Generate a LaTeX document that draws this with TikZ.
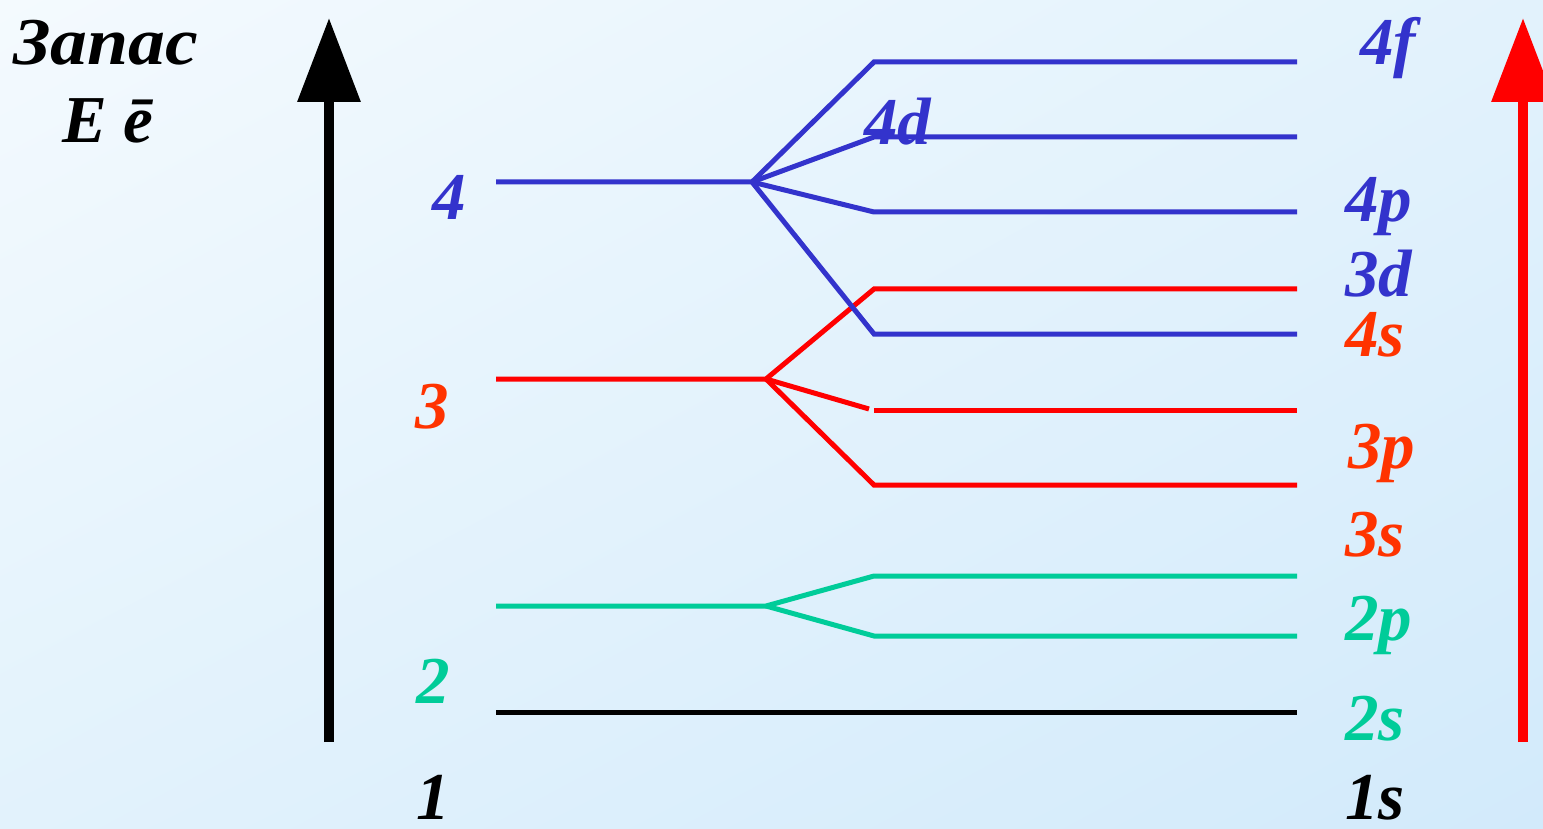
\documentclass[tikz,border=0pt]{standalone}
\usepackage{fontspec}
\setmainfont{Liberation Serif}[BoldFont={* Bold}, ItalicFont={* Italic}, BoldItalicFont={* Bold Italic}]
\usetikzlibrary{arrows.meta,shadings}
\definecolor{lvblue}{HTML}{3333CC}
\definecolor{lvred}{HTML}{FF0000}
\definecolor{lvorange}{HTML}{FF3300}
\definecolor{lvgreen}{HTML}{00CC99}
\definecolor{bgA}{HTML}{F4FAFE}
\definecolor{bgB}{HTML}{D2EAFB}
\definecolor{bgC}{HTML}{E2F2FC}
\tikzset{
  lvl/.style={line width=5pt},
  lbl/.style={font=\fontsize{67}{67}\selectfont\bfseries\itshape, anchor=base west, inner sep=0pt},
  axisarrow/.style={line width=10pt, -{Triangle[length=84pt,width=61pt]}}
}
\begin{document}
\begin{tikzpicture}[x=1pt,y=-1pt]
\useasboundingbox (0,0) rectangle (1543,829);
\shade[upper left=bgA, lower right=bgB, upper right=bgC, lower left=bgC] (0,0) rectangle (1543,829);
% axes
\coordinate (ab) at (329,742); \coordinate (at) at (329,18);
\coordinate (rb) at (1523,742); \coordinate (rt) at (1523,18);
\draw[axisarrow, black] (ab) -- (at);
\draw[axisarrow, lvred] (rb) -- (rt);
% level 1
\coordinate (n1a) at (496,712); \coordinate (n1e) at (1297,712);
\draw[lvl, black] (n1a) -- (n1e);
% level 2
\coordinate (n2a) at (496,606); \coordinate (n2b) at (766,606);
\coordinate (s2a) at (874,576); \coordinate (s2ae) at (1297,576);
\coordinate (s2b) at (874,636); \coordinate (s2be) at (1297,636);
\draw[lvl, lvgreen] (n2a) -- (n2b) -- (s2a) -- (s2ae);
\draw[lvl, lvgreen] (n2b) -- (s2b) -- (s2be);
% level 3
\coordinate (n3a) at (496,379); \coordinate (n3b) at (766,379);
\coordinate (s3a) at (874,289); \coordinate (s3ae) at (1297,289);
\coordinate (s3bx) at (869,409);
\coordinate (s3b) at (874,410); \coordinate (s3be) at (1297,410);
\coordinate (s3c) at (874,485); \coordinate (s3ce) at (1297,485);
\draw[lvl, lvred] (n3a) -- (n3b) -- (s3a) -- (s3ae);
\draw[lvl, lvred] (n3b) -- (s3bx);
\draw[lvl, lvred] (s3b) -- (s3be);
\draw[lvl, lvred] (n3b) -- (s3c) -- (s3ce);
% level 4
\coordinate (n4a) at (496,182); \coordinate (n4b) at (752,182);
\coordinate (s4a) at (874,62); \coordinate (s4ae) at (1297,62);
\coordinate (s4b) at (874,137); \coordinate (s4be) at (1297,137);
\coordinate (s4c) at (874,212); \coordinate (s4ce) at (1297,212);
\coordinate (s4d) at (874,334); \coordinate (s4de) at (1297,334);
\draw[lvl, lvblue] (n4a) -- (n4b) -- (s4a) -- (s4ae);
\draw[lvl, lvblue] (n4b) -- (s4b) -- (s4be);
\draw[lvl, lvblue] (n4b) -- (s4c) -- (s4ce);
\draw[lvl, lvblue] (n4b) -- (s4d) -- (s4de);
% title
\node[lbl, black] (title) at (13,65) {\scalebox{1.1}[1]{Запас}};
\node[lbl, black] (energy) at (62,143) {E ē};
% left numbers
\node[lbl, lvblue] (l4) at (432,220) {4};
\node[lbl, lvorange] (l3) at (415,428) {3};
\node[lbl, lvgreen] (l2) at (416,703) {2};
\node[lbl, black] (l1) at (416,819) {1};
% right labels
\node[lbl, lvblue] (t4f) at (1360,65) {4f};
\node[lbl, lvblue] (t4d) at (864,145) {4d};
\node[lbl, lvblue] (t4p) at (1345,222) {4p};
\node[lbl, lvblue] (t3d) at (1345,297) {3d};
\node[lbl, lvorange] (t4s) at (1345,356) {4s};
\node[lbl, lvorange] (t3p) at (1348,468) {3p};
\node[lbl, lvorange] (t3s) at (1345,556) {3s};
\node[lbl, lvgreen] (t2p) at (1345,640) {2p};
\node[lbl, lvgreen] (t2s) at (1345,740) {2s};
\node[lbl, black] (t1s) at (1345,819) {1s};
\end{tikzpicture}
\end{document}
